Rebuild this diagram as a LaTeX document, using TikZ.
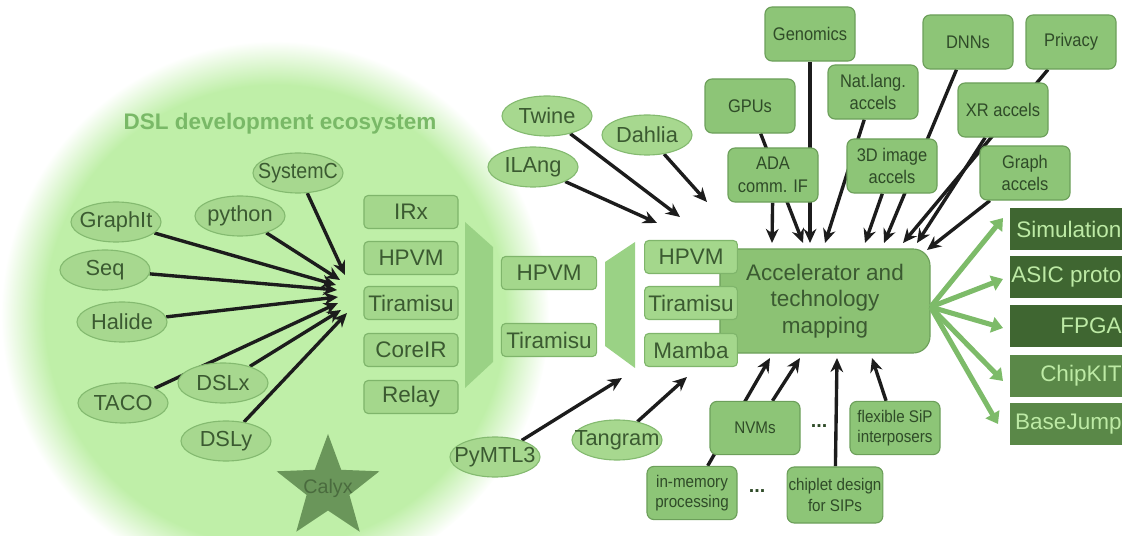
\documentclass[tikz,border=0pt]{standalone}
\usepackage{fontspec}
\setmainfont{Liberation Sans}
\newfontfamily\narrowfont[FakeStretch=0.9]{Liberation Sans}
\usetikzlibrary{arrows.meta, shapes.geometric}

\definecolor{ecogreen}{HTML}{BFEFA8}
\definecolor{titlegreen}{HTML}{79B967}
\definecolor{dslfill}{HTML}{A7D88F}
\definecolor{dslline}{HTML}{84BA70}
\definecolor{irfill}{HTML}{A4D78C}
\definecolor{irline}{HTML}{7FB56B}
\definecolor{trapfill}{HTML}{9AD285}
\definecolor{appfill}{HTML}{8DC577}
\definecolor{appline}{HTML}{6C9F5A}
\definecolor{accfill}{HTML}{8CC274}
\definecolor{inktext}{HTML}{3B5A31}
\definecolor{apptext}{HTML}{2F4B28}
\definecolor{outdark}{HTML}{3F6631}
\definecolor{outmid}{HTML}{5A8848}
\definecolor{outtext}{HTML}{BDEAA5}
\definecolor{fangreen}{HTML}{7DBB69}
\definecolor{wire}{HTML}{1C1C1C}
\definecolor{starfill}{HTML}{6A965A}
\definecolor{startext}{HTML}{4A6B3E}

\pgfdeclareradialshading{ecoglow}{\pgfpoint{0bp}{0bp}}{color(0bp)=(ecogreen); color(21bp)=(ecogreen); color(25bp)=(white); color(50bp)=(white)}

\pgfdeclarelayer{glow}
\pgfdeclarelayer{wires}
\pgfsetlayers{glow,wires,main}

\begin{document}
\begin{tikzpicture}[x=0.025cm, y=-0.025cm,
    dsl/.style={ellipse, draw=dslline, fill=dslfill, line width=0.8pt,
        minimum width=2.25cm, minimum height=1cm, inner xsep=-10pt, inner ysep=0pt,
        text=inktext, font=\fontsize{15.5}{18}\selectfont},
    irbox/.style={rectangle, rounded corners=3pt, draw=irline, fill=irfill, line width=0.8pt,
        minimum width=2.35cm, minimum height=0.825cm, inner sep=1pt,
        text=inktext, font=\fontsize{16}{18}\selectfont},
    appbox/.style={rectangle, rounded corners=5pt, draw=appline, fill=appfill, line width=0.8pt,
        minimum width=2.25cm, minimum height=1.35cm, inner sep=1pt, align=center,
        text=apptext, font=\narrowfont\fontsize{13}{16}\selectfont},
    techbox/.style={appbox, minimum height=1.33cm, font=\narrowfont\fontsize{12}{14.5}\selectfont},
    outbox/.style={rectangle, anchor=west, inner xsep=0pt, text width=2.78cm, align=flush right,
        minimum height=1.05cm, text=outtext, font=\fontsize{16}{20}\selectfont},
    feed/.style={-{Stealth[length=10pt,width=9pt]}, line width=2.4pt, draw=wire},
    fan/.style={-{Triangle[length=8pt,width=11pt]}, line width=3.6pt, draw=fangreen},
]
    % Frame of the picture
    \useasboundingbox (0,0) rectangle (1122,536);
    \clip (0,0) rectangle (1122,536);

    % The soft green disc of the ecosystem
    \begin{pgfonlayer}{glow}
        \shade[shading=ecoglow] (275,315) circle (6.85cm);
    \end{pgfonlayer}
    \node[text=titlegreen, font=\bfseries\fontsize{16}{18}\selectfont] (ecotitle) at (280,124) {DSL development ecosystem};

    % Front-end languages
    \node[dsl, font=\narrowfont\fontsize{15.5}{18}\selectfont] (sysc) at (298,173) {SystemC};
    \node[dsl] (py) at (240,216) {python};
    \node[dsl] (graphit) at (116,222) {GraphIt};
    \node[dsl] (seq) at (105,270) {Seq};
    \node[dsl] (halide) at (122,322) {Halide};
    \node[dsl] (taco) at (123,403) {TACO};
    \node[dsl] (dslx) at (223,383) {DSLx};
    \node[dsl] (dsly) at (226,441) {DSLy};
    \node[star, star points=5, star point ratio=2.4, minimum size=2.7cm, inner sep=-7pt,
        fill=starfill, text=startext, font=\fontsize{14}{16}\selectfont] (calyx) at (328,488) {Calyx};

    % Intermediate representations
    \node[irbox] (irx) at (411,212) {IRx};
    \node[irbox] (hpvmA) at (411,258) {HPVM};
    \node[irbox] (tiraA) at (411,303) {Tiramisu};
    \node[irbox] (coreir) at (411,350) {CoreIR};
    \node[irbox] (relay) at (411,397) {Relay};

    % Funnels
    \fill[trapfill] (465,222) -- (493,247) -- (493,362) -- (465,388) -- cycle;
    \fill[trapfill] (605,262) -- (635,242) -- (635,368) -- (605,346) -- cycle;

    \node[irbox, minimum width=2.38cm] (hpvmB) at (549,273) {HPVM};
    \node[irbox, minimum width=2.38cm] (tiraB) at (549,340) {Tiramisu};

    % Accelerator and technology mapping
    \node[rectangle, rounded corners=12pt, draw=appline, fill=accfill, line width=0.8pt,
        minimum width=5.25cm, minimum height=2.6cm, align=center, text=inktext,
        font=\fontsize{16}{19}\selectfont] (accel) at (825,301) {Accelerator and\\technology\\mapping};
    \node[irbox, minimum width=2.32cm] (hpvmC) at (691,257) {HPVM};
    \node[irbox, minimum width=2.32cm] (tiraC) at (691,303) {Tiramisu};
    \node[irbox, minimum width=2.32cm] (mamba) at (691,350) {Mamba};

    % Other inputs
    \node[dsl] (twine) at (547,116) {Twine};
    \node[dsl] (ilang) at (533,167) {ILAng};
    \node[dsl] (dahlia) at (647,135) {Dahlia};
    \node[dsl] (pymtl) at (495,457) {PyMTL3};
    \node[dsl] (tangram) at (617,440) {Tangram};

    % Application domains
    \node[appbox] (genomics) at (810,34) {Genomics};
    \node[appbox] (gpus) at (750,106) {GPUs};
    \node[appbox] (ada) at (773,175) {ADA\\comm. IF};
    \node[appbox] (natlang) at (873,92) {Nat.lang.\\accels};
    \node[appbox] (img3d) at (892,166) {3D image\\accels};
    \node[appbox] (dnns) at (968,42) {DNNs};
    \node[appbox] (privacy) at (1071,42) {Privacy};
    \node[appbox] (xr) at (1003,110) {XR accels};
    \node[appbox] (graph) at (1025,173) {Graph\\accels};

    % Technologies
    \node[techbox] (nvms) at (755,428) {NVMs};
    \node[text=apptext, font=\bfseries\fontsize{14}{16}\selectfont] (dotsA) at (819,426) {...};
    \node[techbox] (flexsip) at (895,428) {flexible SiP\\interposers};
    \node[techbox] (inmem) at (692,493) {in-memory\\processing};
    \node[text=apptext, font=\bfseries\fontsize{14}{16}\selectfont] (dotsB) at (757,491) {...};
    \node[techbox, minimum width=2.38cm, minimum height=1.4cm] (chiplet) at (835,495) {chiplet design\\for SIPs};

    % Targets
    \node[outbox, fill=outdark] (sim) at (1010,229) {Simulation};
    \node[outbox, fill=outdark] (asic) at (1010,277) {ASIC proto};
    \node[outbox, fill=outdark] (fpga) at (1010,326) {FPGA};
    \node[outbox, fill=outmid] (chipkit) at (1010,376) {ChipKIT};
    \node[outbox, fill=outmid] (bjump) at (1010,424) {BaseJump};

    % Arrow tips
    \coordinate (tSysc) at (345,275);
    \coordinate (tPy) at (340,280);
    \coordinate (tGraphit) at (336,285);
    \coordinate (tSeq) at (337,290);
    \coordinate (tHalide) at (338,297);
    \coordinate (tTaco) at (338,303);
    \coordinate (tDslx) at (341,310);
    \coordinate (tDsly) at (347,313);
    \coordinate (tIlang) at (657,223);
    \coordinate (tTwine) at (680,217);
    \coordinate (tDahlia) at (707,202);
    \coordinate (tPymtl) at (622,378);
    \coordinate (tTangram) at (687,377);
    \coordinate (tAda) at (772,243);
    \coordinate (tGpus) at (803,243);
    \coordinate (tGenomics) at (810,243);
    \coordinate (tNatlang) at (825,243);
    \coordinate (tImg) at (865,243);
    \coordinate (tDnns) at (884,243);
    \coordinate (tPrivacy) at (903,243);
    \coordinate (tXr) at (917,243);
    \coordinate (tGraph) at (927,250);
    \coordinate (tInmem) at (770,358);
    \coordinate (tNvms) at (800,358);
    \coordinate (tChiplet) at (837,358);
    \coordinate (tFlex) at (872,358);
    \coordinate (tSim) at (1003,218);
    \coordinate (tAsic) at (1003,279);
    \coordinate (tFpga) at (1003,328);
    \coordinate (tChip) at (1003,381);
    \coordinate (tBjump) at (998,424);

    % Black feeds, behind the boxes
    \begin{pgfonlayer}{wires}
        \draw[feed] (sysc) -- (tSysc);
        \draw[feed] (py) -- (tPy);
        \draw[feed] (graphit) -- (tGraphit);
        \draw[feed] (seq) -- (tSeq);
        \draw[feed] (halide) -- (tHalide);
        \draw[feed] (taco) -- (tTaco);
        \draw[feed] (dslx) -- (tDslx);
        \draw[feed] (dsly) -- (tDsly);
        \draw[feed] (ilang) -- (tIlang);
        \draw[feed] (twine) -- (tTwine);
        \draw[feed] (dahlia) -- (tDahlia);
        \draw[feed] (pymtl) -- (tPymtl);
        \draw[feed] (tangram) -- (tTangram);
        \draw[feed] (ada) -- (tAda);
        \draw[feed] (gpus) -- (tGpus);
        \draw[feed] (genomics) -- (tGenomics);
        \draw[feed] (natlang) -- (tNatlang);
        \draw[feed] (img3d) -- (tImg);
        \draw[feed] (dnns) -- (tDnns);
        \draw[feed] (privacy) -- (tPrivacy);
        \draw[feed] (xr) -- (tXr);
        \draw[feed] (graph) -- (tGraph);
        \draw[feed] (inmem) -- (tInmem);
        \draw[feed] (nvms) -- (tNvms);
        \draw[feed] (chiplet) -- (tChiplet);
        \draw[feed] (flexsip) -- (tFlex);
    \end{pgfonlayer}

    % Green fan to the targets
    \draw[fan] ([yshift=-0.15cm]accel.east) -- (tSim);
    \draw[fan] ([yshift=-0.15cm]accel.east) -- (tAsic);
    \draw[fan] ([yshift=-0.15cm]accel.east) -- (tFpga);
    \draw[fan] ([yshift=-0.15cm]accel.east) -- (tChip);
    \draw[fan] ([yshift=-0.15cm]accel.east) -- (tBjump);
\end{tikzpicture}
\end{document}
